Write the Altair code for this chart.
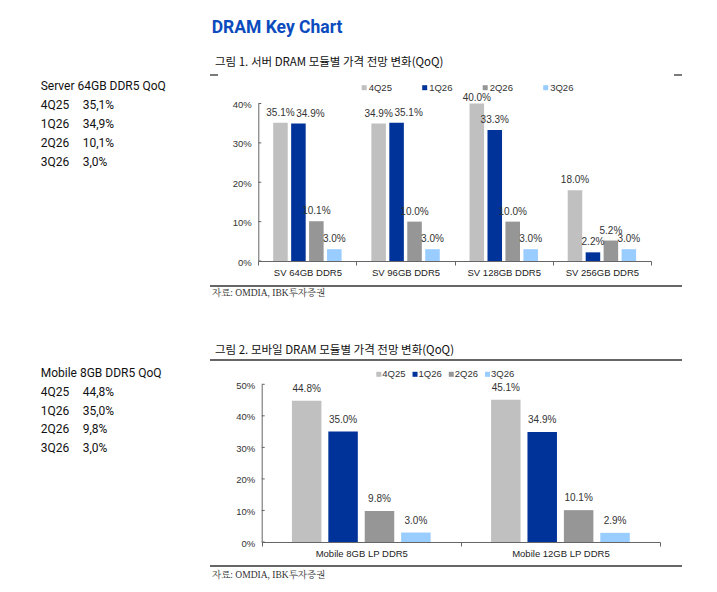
import altair as alt
import pandas as pd

# ---------------- data ----------------
series = ["4Q25", "1Q26", "2Q26", "3Q26"]
colors = ["#c0c0c0", "#003399", "#969696", "#99ccff"]

server_modules = ["SV 64GB DDR5", "SV 96GB DDR5", "SV 128GB DDR5", "SV 256GB DDR5"]
server_4q25 = [35.1, 34.9, 40.0, 18.0]
server_1q26 = [34.9, 35.1, 33.3, 2.2]
server_2q26 = [10.1, 10.0, 10.0, 5.2]
server_3q26 = [3.0, 3.0, 3.0, 3.0]
server_ticks = [0, 10, 20, 30, 40]

mobile_modules = ["Mobile 8GB LP DDR5", "Mobile 12GB LP DDR5"]
mobile_4q25 = [44.8, 45.1]
mobile_1q26 = [35.0, 34.9]
mobile_2q26 = [9.8, 10.1]
mobile_3q26 = [3.0, 2.9]
mobile_ticks = [0, 10, 20, 30, 40, 50]

server_panel_title = "Server 64GB DDR5 QoQ"
server_panel_values = [35.1, 34.9, 10.1, 3.0]
mobile_panel_title = "Mobile 8GB DDR5 QoQ"
mobile_panel_values = [44.8, 35.0, 9.8, 3.0]

page_title = "DRAM Key Chart"
fig1_title = "그림 1. 서버 DRAM 모듈별 가격 전망 변화(QoQ)"
fig2_title = "그림 2. 모바일 DRAM 모듈별 가격 전망 변화(QoQ)"
source_note = "자료: OMDIA, IBK투자증권"

# ---------------- layout (view pixels) ----------------
W, H = 701, 576
S_X = [250.3, 643.0]
S_Y = [253.0, 95.5]
S_DOM = [0, 40]
M_X = [253.7, 652.0]
M_Y = [534.0, 376.3]
M_DOM = [0, 50]

LAT = "Liberation Sans, Arial, sans-serif"
NARROW = "Roboto, Liberation Sans, Arial, sans-serif"
KR = "Noto Sans CJK KR, sans-serif"
SERIF = "Liberation Serif, Noto Serif CJK KR, Noto Sans CJK KR, serif"
AXC = "#666666"
TXC = "#333333"


def long_table(mods, cols, px_per_unit, dom_max):
    rows = []
    for i, m in enumerate(mods):
        prev, prev_n = None, False
        for s, col in zip(series, cols):
            v = col[i]
            nudge = prev is not None and (not prev_n) and abs(v - prev) * px_per_unit < 8
            if v >= dom_max:
                pos = "top"
            elif nudge:
                pos = "nudge"
            else:
                pos = "normal"
            rows.append(dict(module=m, series=s, value=v, label=f"{v:.1f}%", pos=pos))
            prev, prev_n = v, nudge
    return pd.DataFrame(rows)


df1 = long_table(server_modules, [server_4q25, server_1q26, server_2q26, server_3q26],
                 (S_Y[0] - S_Y[1]) / (S_DOM[1] - S_DOM[0]), S_DOM[1])
df2 = long_table(mobile_modules, [mobile_4q25, mobile_1q26, mobile_2q26, mobile_3q26],
                 (M_Y[0] - M_Y[1]) / (M_DOM[1] - M_DOM[0]), M_DOM[1])

color_enc = alt.Color("series:N", scale=alt.Scale(domain=series, range=colors), legend=None)


def bar_group(df, mods, xr, yr, dom, ticks, lab_dy):
    x = alt.X("module:N", sort=mods,
              scale=alt.Scale(domain=mods, range=xr, paddingInner=0, paddingOuter=0),
              axis=alt.Axis(title=None, orient="bottom", offset=yr[0] - H, labelAngle=0,
                            labelFontSize=9.5, labelFont=LAT, labelColor="#222222",
                            tickBand="extent", tickSize=4, tickColor=AXC,
                            domainColor=AXC, labelPadding=2.5, grid=False))
    xo = alt.XOffset("series:N", sort=series,
                     scale=alt.Scale(domain=series, paddingInner=0.19, paddingOuter=0.83))
    yaxis = alt.Axis(title=None, orient="left", offset=-xr[0], values=ticks,
                     labelExpr="datum.value + '%'", ticks=False, tickSize=0,
                     labelPadding=7, domainColor=AXC, grid=False,
                     labelFontSize=9.5, labelFont=LAT, labelColor=TXC, labelOffset=1)
    yscale = alt.Scale(domain=dom, range=yr, nice=False, zero=True)
    y = alt.Y("value:Q", scale=yscale, axis=yaxis)
    base = alt.Chart(df)
    bars = base.mark_bar().encode(x=x, xOffset=xo, y=y, color=color_enc)

    def labels(cond, dy, dx=0):
        return base.mark_text(baseline="bottom", dy=dy, dx=dx, fontSize=10, font=LAT,
                              color=TXC).encode(x=x, xOffset=xo, y=y, text="label:N"
                                                ).transform_filter(cond)

    lab_a = labels("datum.pos == 'normal'", lab_dy)
    lab_b = labels("datum.pos == 'nudge'", lab_dy, 12)
    lab_c = labels("datum.pos == 'top'", -1)
    tk = alt.Chart(pd.DataFrame({"value": ticks})).mark_rule(color=AXC, strokeWidth=1).encode(
        y=y, x=alt.value(xr[0]), x2=alt.value(xr[0] + 3))
    return alt.layer(bars, lab_a, lab_b, lab_c, tk)


chart1 = bar_group(df1, server_modules, S_X, S_Y, S_DOM, server_ticks, -5)
chart2 = bar_group(df2, mobile_modules, M_X, M_Y, M_DOM, mobile_ticks, -7)


def legend(xr, yv, dx):
    d = pd.DataFrame({"series": series})
    xs = alt.X("series:N", sort=series,
               scale=alt.Scale(type="point", domain=series, range=xr, padding=0), axis=None)
    sq = alt.Chart(d).mark_square(size=25, opacity=1).encode(x=xs, y=alt.value(yv), color=color_enc)
    tx = alt.Chart(d).mark_text(align="left", baseline="middle", dx=dx, fontSize=9.5, font=LAT,
                                color=TXC).encode(x=xs, y=alt.value(yv), text="series:N")
    return alt.layer(sq, tx)


leg1 = legend([356.2, 537.7], 79.7, 4.5)
leg2 = legend([370.8, 479.5], 366.3, 3.5)


def panel(title, vals, x0, x1, ty, yr):
    d = pd.DataFrame({"series": series,
                      "val": [f"{v:.1f}%".replace(".", ",") for v in vals]})
    ys = alt.Y("series:N", sort=series,
               scale=alt.Scale(type="point", domain=series, range=yr, padding=0), axis=None)
    q = alt.Chart(d).mark_text(align="left", baseline="middle", fontSize=12, font=NARROW,
                               color="#111111").encode(x=alt.value(x0), y=ys, text="series:N")
    v = alt.Chart(d).mark_text(align="left", baseline="middle", fontSize=12, font=NARROW,
                               color="#111111").encode(x=alt.value(x1), y=ys, text="val:N")
    t = alt.Chart(pd.DataFrame({"t": [title]})).mark_text(
        align="left", baseline="middle", fontSize=12, font=NARROW, color="#111111").encode(
        x=alt.value(x0), y=alt.value(ty), text="t:N")
    return alt.layer(t, q, v)


pan1 = panel(server_panel_title, server_panel_values, 32.7, 74.7, 77.7, [97.0, 154.3])
pan2 = panel(mobile_panel_title, mobile_panel_values, 32.7, 74.7, 364.7, [384.3, 439.7])


def label(text, x, y, size, font, color, weight="normal"):
    return alt.Chart(pd.DataFrame({"t": [text]})).mark_text(
        align="left", baseline="middle", fontSize=size, font=font, color=color,
        fontWeight=weight).encode(x=alt.value(x), y=alt.value(y), text="t:N")


def hline(x1, x2, y, w=1.3):
    return alt.Chart(pd.DataFrame({"a": [0]})).mark_rule(color="#333333", strokeWidth=w).encode(
        x=alt.value(x1), x2=alt.value(x2), y=alt.value(y))


texts = [
    label(page_title, 203.7, 20.3, 17.5, "Roboto, Liberation Sans, sans-serif", "#0b4bbd", "bold"),
    label(fig1_title, 207, 55.3, 11.5, KR, "#111111"),
    label(fig2_title, 207, 342.7, 11.5, KR, "#111111"),
    label(source_note, 204, 285.3, 9.5, SERIF, TXC),
    label(source_note, 204, 567, 9.5, SERIF, TXC),
]
lines = [
    hline(202, 210, 67),
    hline(666, 674, 67),
    hline(202, 674, 278),
    hline(202, 674, 352),
    hline(202, 674, 558),
]

chart = alt.layer(chart1, chart2, leg1, leg2, pan1, pan2, *texts, *lines).resolve_scale(
    x="independent", y="independent", xOffset="independent"
).properties(
    width=W, height=H, autosize=alt.AutoSizeParams(type="none"), padding=0,
    background="white"
).configure_view(stroke=None)

chart.save("out.html", embed_options={"renderer": "svg", "actions": False})
